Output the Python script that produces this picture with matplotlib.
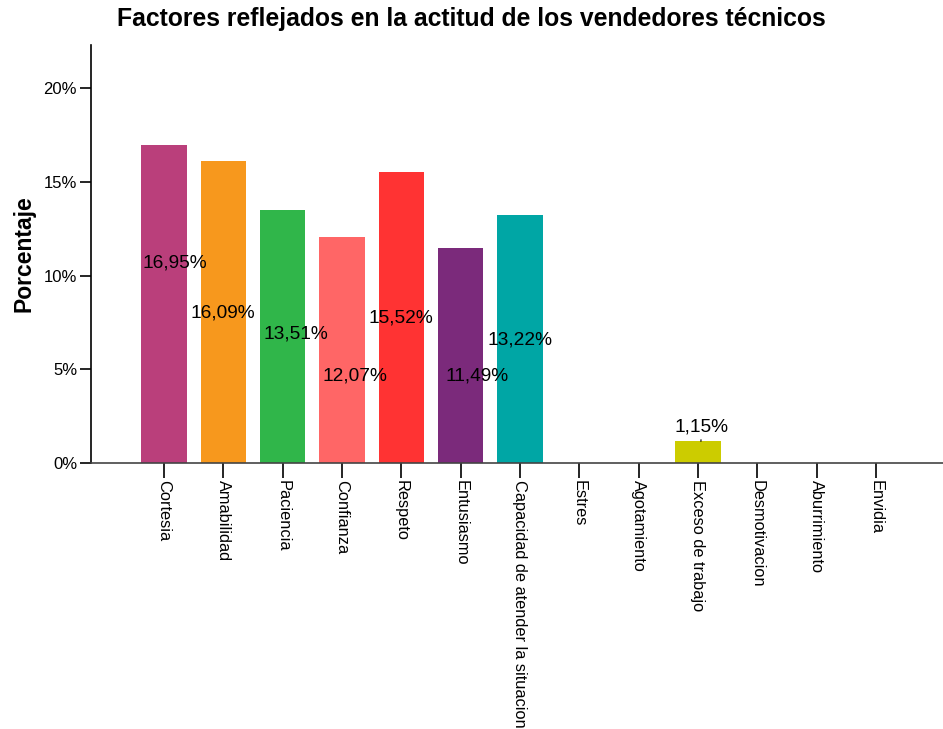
import matplotlib.pyplot as plt
import numpy as np

plt.rcParams['font.family'] = ['Liberation Sans', 'DejaVu Sans']

categorias = ["Cortesia", "Amabilidad", "Paciencia", "Confianza", "Respeto",
              "Entusiasmo", "Capacidad de atender la situacion", "Estres",
              "Agotamiento", "Exceso de trabajo", "Desmotivacion",
              "Aburrimiento", "Envidia"]
porcentajes = [16.95, 16.09, 13.51, 12.07, 15.52, 11.49, 13.22,
               0, 0, 1.15, 0, 0, 0]
colores = ["#BA3F7B", "#F7981D", "#30B64A", "#FF6666", "#FF3333",
           "#7B2A7B", "#00A6A5", "#CCCCCC", "#CCCCCC", "#CCCC00",
           "#CCCCCC", "#CCCCCC", "#CCCCCC"]

# posicion de las etiquetas (como en SPSS, escalonadas)
etiq_y = [10.67, 8.0, 6.88, 4.64, 7.73, 4.64, 6.56, None, None, 1.92, None, None, None]
etiq_dx = [0.19, 0.0, 0.22, 0.22, 0.0, 0.27, 0.0, 0, 0, 0.06, 0, 0, 0]

fig = plt.figure(figsize=(9.43, 7.29), dpi=100)
ax = fig.add_axes([0.0965, 0.3649, 0.9035, 0.5734])

x = np.arange(len(categorias))
ax.bar(x, porcentajes, width=0.76, color=colores, zorder=2)

for i, v in enumerate(porcentajes):
    if etiq_y[i] is None:
        continue
    txt = ("%.2f%%" % v).replace(".", ",")
    if v < 3:
        ax.annotate(txt, xy=(i + 0.05, v), xytext=(i + etiq_dx[i], etiq_y[i]),
                    ha='center', va='center', fontsize=13.8,
                    arrowprops=dict(arrowstyle='-', color='black', lw=0.8,
                                    shrinkA=1, shrinkB=0))
    else:
        ax.text(i + etiq_dx[i], etiq_y[i], txt, ha='center', va='center',
                fontsize=13.8, zorder=3)

ax.set_xlim(-1.23, len(categorias) - 1 + 1.13)
ax.set_ylim(0, 22.3)
ax.set_yticks([0, 5, 10, 15, 20])
ax.set_yticklabels(["0%", "5%", "10%", "15%", "20%"], fontsize=12)
ax.set_xticks(x)
ax.set_xticklabels(categorias, rotation=270, fontsize=11.8, ha='center', va='top')
for lbl in ax.get_xticklabels():
    lbl.set_x(lbl.get_position()[0])
ax.tick_params(axis='y', length=8, width=1.2, direction='out', pad=2)
ax.tick_params(axis='x', length=11, width=1.2, direction='out', pad=1)

for s in ['top', 'right']:
    ax.spines[s].set_visible(False)
ax.spines['left'].set_linewidth(1.2)
ax.spines['bottom'].set_linewidth(1.2)
ax.spines['bottom'].set_color('#444444')

ax.set_ylabel("Porcentaje", fontsize=16.5, fontweight='bold', labelpad=6)
fig.text(0.5, 0.974, "Factores reflejados en la actitud de los vendedores técnicos",
         ha='center', va='center', fontsize=17.8, fontweight='bold')

plt.savefig("out.png", dpi=100)
